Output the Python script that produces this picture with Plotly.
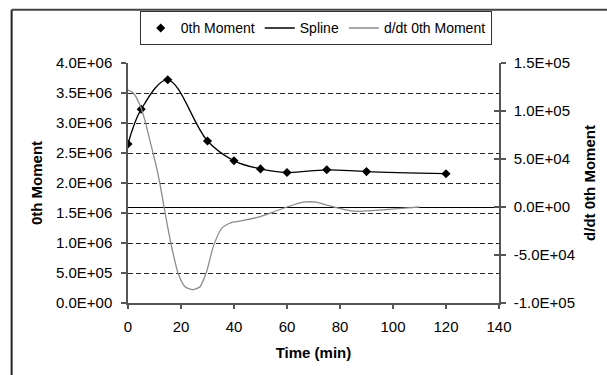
import plotly.graph_objects as go

# 0th Moment data
time_min = [0, 5, 15, 30, 40, 50, 60, 75, 90, 120]
moment0 = [2.65e6, 3.23e6, 3.72e6, 2.70e6, 2.37e6, 2.235e6, 2.175e6, 2.22e6, 2.19e6, 2.155e6]

# d/dt 0th Moment
deriv_t = [0, 1.9, 4.4, 6.3, 8.2, 10.1, 12, 13.6, 15.2, 17, 18.9, 21.5, 24.4, 27.2, 29.7,
           32.2, 35.4, 39.2, 43.6, 49.9, 55, 60, 66, 71, 75, 79, 84, 88, 96, 103, 110]
deriv_v = [1.22e5, 1.19e5, 1.07e5, 0.91e5, 0.70e5, 0.49e5, 0.25e5, 0.0, -0.24e5, -0.48e5,
           -0.69e5, -0.83e5, -0.86e5, -0.83e5, -0.67e5, -0.41e5, -0.22e5, -0.16e5, -0.14e5,
           -0.10e5, -0.05e5, 0.0, 0.05e5, 0.05e5, 0.02e5, -0.01e5, -0.04e5, -0.045e5,
           -0.03e5, -0.015e5, 0.0]

left_ticks = [0, 5e5, 1e6, 1.5e6, 2e6, 2.5e6, 3e6, 3.5e6, 4e6]
left_labels = ["0.0E+00", "5.0E+05", "1.0E+06", "1.5E+06", "2.0E+06", "2.5E+06",
               "3.0E+06", "3.5E+06", "4.0E+06"]
right_ticks = [-1e5, -5e4, 0, 5e4, 1e5, 1.5e5]
right_labels = ["-1.0E+05", "-5.0E+04", "0.0E+00", "5.0E+04", "1.0E+05", "1.5E+05"]
x_ticks = [0, 20, 40, 60, 80, 100, 120, 140]

FONT = "Liberation Sans, Arial, sans-serif"
AX = "#555555"

fig = go.Figure()
fig.add_trace(go.Scatter(x=time_min, y=moment0, mode="markers", name="0th Moment",
                         marker=dict(symbol="diamond", size=7, color="black")))
fig.add_trace(go.Scatter(x=time_min, y=moment0, mode="lines", name="Spline",
                         line=dict(color="black", width=1.3, shape="spline", smoothing=1.0)))
fig.add_trace(go.Scatter(x=deriv_t, y=deriv_v, mode="lines", name="d/dt 0th Moment",
                         yaxis="y2",
                         line=dict(color="#8c8c8c", width=1.3, shape="spline", smoothing=0.6)))
# invisible helper trace to carry inward ticks on right axis
fig.add_trace(go.Scatter(x=[None], y=[None], yaxis="y3", showlegend=False, hoverinfo="skip"))

fig.update_layout(
    width=607, height=375,
    margin=dict(l=128, r=108, t=63, b=72),
    paper_bgcolor="white", plot_bgcolor="white",
    font=dict(family=FONT, size=15, color="black"),
    showlegend=True,
    legend=dict(orientation="h", x=0.506, xanchor="center", y=1.215, yanchor="top",
                bordercolor="#333333", borderwidth=1, bgcolor="white",
                font=dict(size=14), itemwidth=30, tracegroupgap=0),
    xaxis=dict(range=[0, 140], tickvals=x_ticks, showgrid=False, zeroline=False,
               showline=True, linecolor=AX, linewidth=1.5, ticks="outside", ticklen=4,
               tickcolor=AX, tickwidth=1.5, ticklabelstandoff=5,
               title=dict(text="<b>Time (min)</b>", font=dict(size=15), standoff=14)),
    yaxis=dict(range=[0, 4e6], tickvals=left_ticks, ticktext=left_labels,
               showgrid=True, gridcolor="#222222", gridwidth=1, griddash="5px,3px",
               zeroline=False, showline=True, linecolor=AX, linewidth=1.5,
               ticks="outside", ticklen=5, tickcolor=AX, tickwidth=1.5,
               ticklabelstandoff=6,
               title=dict(text="<b>0th Moment</b>", font=dict(size=15), standoff=10)),
    yaxis2=dict(range=[-1e5, 1.5e5], tickvals=right_ticks, ticktext=right_labels,
                overlaying="y", side="right", showgrid=False,
                zeroline=True, zerolinecolor="black", zerolinewidth=1.2,
                showline=True, linecolor=AX, linewidth=1.5,
                ticks="outside", ticklen=5, tickcolor=AX, tickwidth=1.5,
                ticklabelstandoff=5,
                title=dict(text="<b>d/dt 0th Moment</b>", font=dict(size=15), standoff=10)),
    yaxis3=dict(range=[-1e5, 1.5e5], tickvals=right_ticks, overlaying="y", side="right",
                showgrid=False, zeroline=False, showline=False, showticklabels=False,
                ticks="inside", ticklen=5, tickcolor=AX, tickwidth=1.5),
    shapes=[
        dict(type="line", xref="paper", yref="paper", x0=-0.3137, x1=-0.3137,
             y0=-0.4, y1=1.222, line=dict(color="#222222", width=2)),
        dict(type="line", xref="paper", yref="paper", x0=-0.3137, x1=1.35,
             y0=1.222, y1=1.222, line=dict(color="#444444", width=2)),
    ],
)

fig.write_html("out.html")
